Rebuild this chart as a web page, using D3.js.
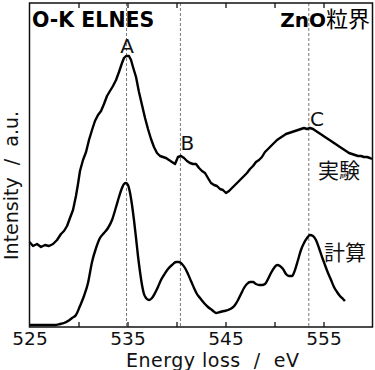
<!DOCTYPE html>
<html><head><meta charset="utf-8">
<script src="https://cdn.jsdelivr.net/npm/d3@7"></script>
<style>html,body{margin:0;padding:0;background:#fff;}svg{display:block;}</style>
</head><body>
<svg id="c" width="375" height="370"></svg>
<script>
// Energy (eV) and intensity (a.u.)
const expEnergy = [525.0,525.36,525.77,526.17,526.58,526.99,527.40,527.81,528.21,528.52,528.83,529.13,529.44,529.74,529.95,530.15,530.46,530.77,531.07,531.38,531.68,531.99,532.30,532.60,532.91,533.21,533.52,533.83,534.13,534.44,534.64,534.85,535.15,535.36,535.56,535.87,536.17,536.48,536.79,537.09,537.40,537.70,538.01,538.32,538.62,538.93,539.23,539.54,539.85,540.15,540.46,540.77,541.07,541.38,541.68,541.99,542.30,542.60,542.91,543.21,543.52,543.83,544.13,544.44,544.74,545.05,545.36,545.66,545.97,546.28,546.58,546.89,547.19,547.50,547.81,548.11,548.42,548.72,549.03,549.34,549.64,549.95,550.26,550.56,550.87,551.17,551.48,551.79,552.09,552.40,552.70,553.01,553.32,553.62,553.93,554.23,554.54,554.85,555.15,555.46,555.77,556.07,556.38,556.68,556.99,557.30,557.60,557.91,558.21,558.52,558.83,559.13,559.44,559.74,559.95];
const expIntensity = [85,81,83,80,82,81,83,87,93,96,101,109,117,131,143,156,167,175,187,197,206,212,216,223,231,236,241,247,255,264,269,271,271,267,260,250,235,222,209,198,188,180,174,171,170,169,167,165,163,170,171,169,166,164,163,163,159,156,154,149,144,142,141,138,137,134,136,139,142,145,148,151,154,158,161,165,167,170,175,178,181,184,187,189,191,193,194,195,196,197,198,199,198,199,198,196,194,192,190,188,186,184,182,180,178,176,174,173,172,171,171,170,170,169,168];
const calcEnergy = [525.0,526.07,527.09,527.60,528.11,528.52,528.93,529.34,529.74,530.15,530.56,530.97,531.38,531.79,532.19,532.60,533.01,533.42,533.83,534.13,534.44,534.64,534.85,535.05,535.26,535.46,535.66,535.87,536.07,536.28,536.48,536.68,536.89,537.19,537.50,537.81,538.11,538.42,538.72,539.13,539.54,539.95,540.26,540.56,540.87,541.17,541.48,541.79,542.09,542.40,542.81,543.21,543.62,544.03,544.44,544.85,545.26,545.66,545.97,546.28,546.58,546.89,547.19,547.50,547.81,548.11,548.42,548.72,549.03,549.34,549.64,549.95,550.26,550.56,550.87,551.17,551.48,551.79,552.09,552.40,552.70,553.01,553.32,553.62,553.93,554.23,554.54,554.85,555.15,555.46,555.77,556.07,556.38,556.68,556.99,557.19];
const calcIntensity = [2,2,2,2,3,4,6,9,12,21,31,44,65,79,89,94,99,107,120,130,139,143,144,142,134,122,107,89,71,55,42,33,29,27,29,34,40,47,52,58,62,65,65,63,59,53,46,39,33,29,24,20,17,14,15,16,17,19,22,27,33,39,43,45,45,43,42,42,43,48,54,59,62,61,58,53,51,51,57,67,77,84,89,92,91,87,79,70,62,54,47,40,35,31,28,26];
const tickValues = [530,535,540,545,550,555];
const labelValues = [525,535,545,555];
const peakEnergy = [534.9,540.4,553.5];
const peakLabels = ["A","B","C"];

const svg = d3.select("#c");
const x = d3.scaleLinear().domain([525,560]).range([29.5,372.5]);
const y = d3.scaleLinear().domain([0,324]).range([327,3]);
const font = "DejaVu Sans, sans-serif";
const cjk = "'Noto Sans CJK JP', sans-serif";

// dashed guide lines
svg.selectAll("line.guide").data(peakEnergy).join("line")
  .attr("x1", d=>x(d)).attr("x2", d=>x(d))
  .attr("y1", y(324)).attr("y2", y(0))
  .attr("stroke","#777").attr("stroke-width",1).attr("stroke-dasharray","3,2");

// curves
const line = d3.line().x(d=>x(d[0])).y(d=>y(d[1])).curve(d3.curveLinear);
svg.append("path").datum(d3.zip(expEnergy, expIntensity))
  .attr("d", line).attr("fill","none").attr("stroke","#000").attr("stroke-width",2.4).attr("stroke-linejoin","round");
svg.append("path").datum(d3.zip(calcEnergy, calcIntensity))
  .attr("d", d3.line().x(d=>x(d[0])).y(d=>y(d[1])).curve(d3.curveMonotoneX))
  .attr("fill","none").attr("stroke","#000").attr("stroke-width",2.4).attr("stroke-linejoin","round");

// frame
svg.append("rect").attr("x",x(525)).attr("y",y(324)).attr("width",x(560)-x(525)).attr("height",y(0)-y(324))
  .attr("fill","none").attr("stroke","#111").attr("stroke-width",1.5);

// ticks (inward) bottom & top
const bt = svg.append("g").attr("transform",`translate(0,${y(0)})`)
  .call(d3.axisBottom(x).tickValues(tickValues).tickSize(-5).tickFormat(""));
const tt = svg.append("g").attr("transform",`translate(0,${y(324)})`)
  .call(d3.axisTop(x).tickValues(tickValues).tickSize(-5).tickFormat(""));
[bt,tt].forEach(g=>{g.select(".domain").remove(); g.selectAll("line").attr("stroke","#111").attr("stroke-width",1.3);});

// tick labels
const lab = svg.append("g").attr("transform",`translate(0,${y(0)})`)
  .call(d3.axisBottom(x).tickValues(labelValues).tickSize(0).tickPadding(0).tickFormat(d3.format("d")));
lab.select(".domain").remove();
lab.selectAll("text").attr("dy",null).attr("y",17.5).attr("font-family",font).attr("font-size",18.5).attr("fill","#111");

// axis titles
svg.append("text").attr("x",126).attr("y",366.5).attr("font-family",font).attr("font-size",19)
  .attr("letter-spacing",0.5).style("white-space","pre").attr("fill","#111").text("Energy loss  /  eV");
svg.append("text").attr("transform","translate(18,260) rotate(-90)").attr("font-family",font).attr("font-size",19)
  .style("white-space","pre").attr("fill","#111").text("Intensity  /  a.u.");

// titles
svg.append("text").attr("x",32).attr("y",27).attr("font-family",font).attr("font-size",20.5).attr("font-weight","bold")
  .attr("fill","#000").text("O-K ELNES");
const t2 = svg.append("text").attr("x",370).attr("y",27).attr("text-anchor","end").attr("fill","#000");
t2.append("tspan").attr("font-family",font).attr("font-size",20).attr("font-weight","bold").text("ZnO");
t2.append("tspan").attr("font-family",cjk).attr("font-size",22).text("粒界");

// peak labels
const peakLabelPos = [[127,53,"middle"],[180.5,149.5,"start"],[310,126,"start"]];
svg.selectAll("text.pk").data(peakLabels).join("text").attr("class","pk")
  .attr("x",(d,i)=>peakLabelPos[i][0]).attr("y",(d,i)=>peakLabelPos[i][1])
  .attr("text-anchor",(d,i)=>peakLabelPos[i][2])
  .attr("font-family",font).attr("font-size",20).attr("fill","#111").text(d=>d);

// series labels
svg.append("text").attr("x",318).attr("y",178).attr("font-family",cjk).attr("font-size",21).attr("fill","#111").text("実験");
svg.append("text").attr("x",324).attr("y",260).attr("font-family",cjk).attr("font-size",21).attr("fill","#111").text("計算");
</script>
</body></html>
